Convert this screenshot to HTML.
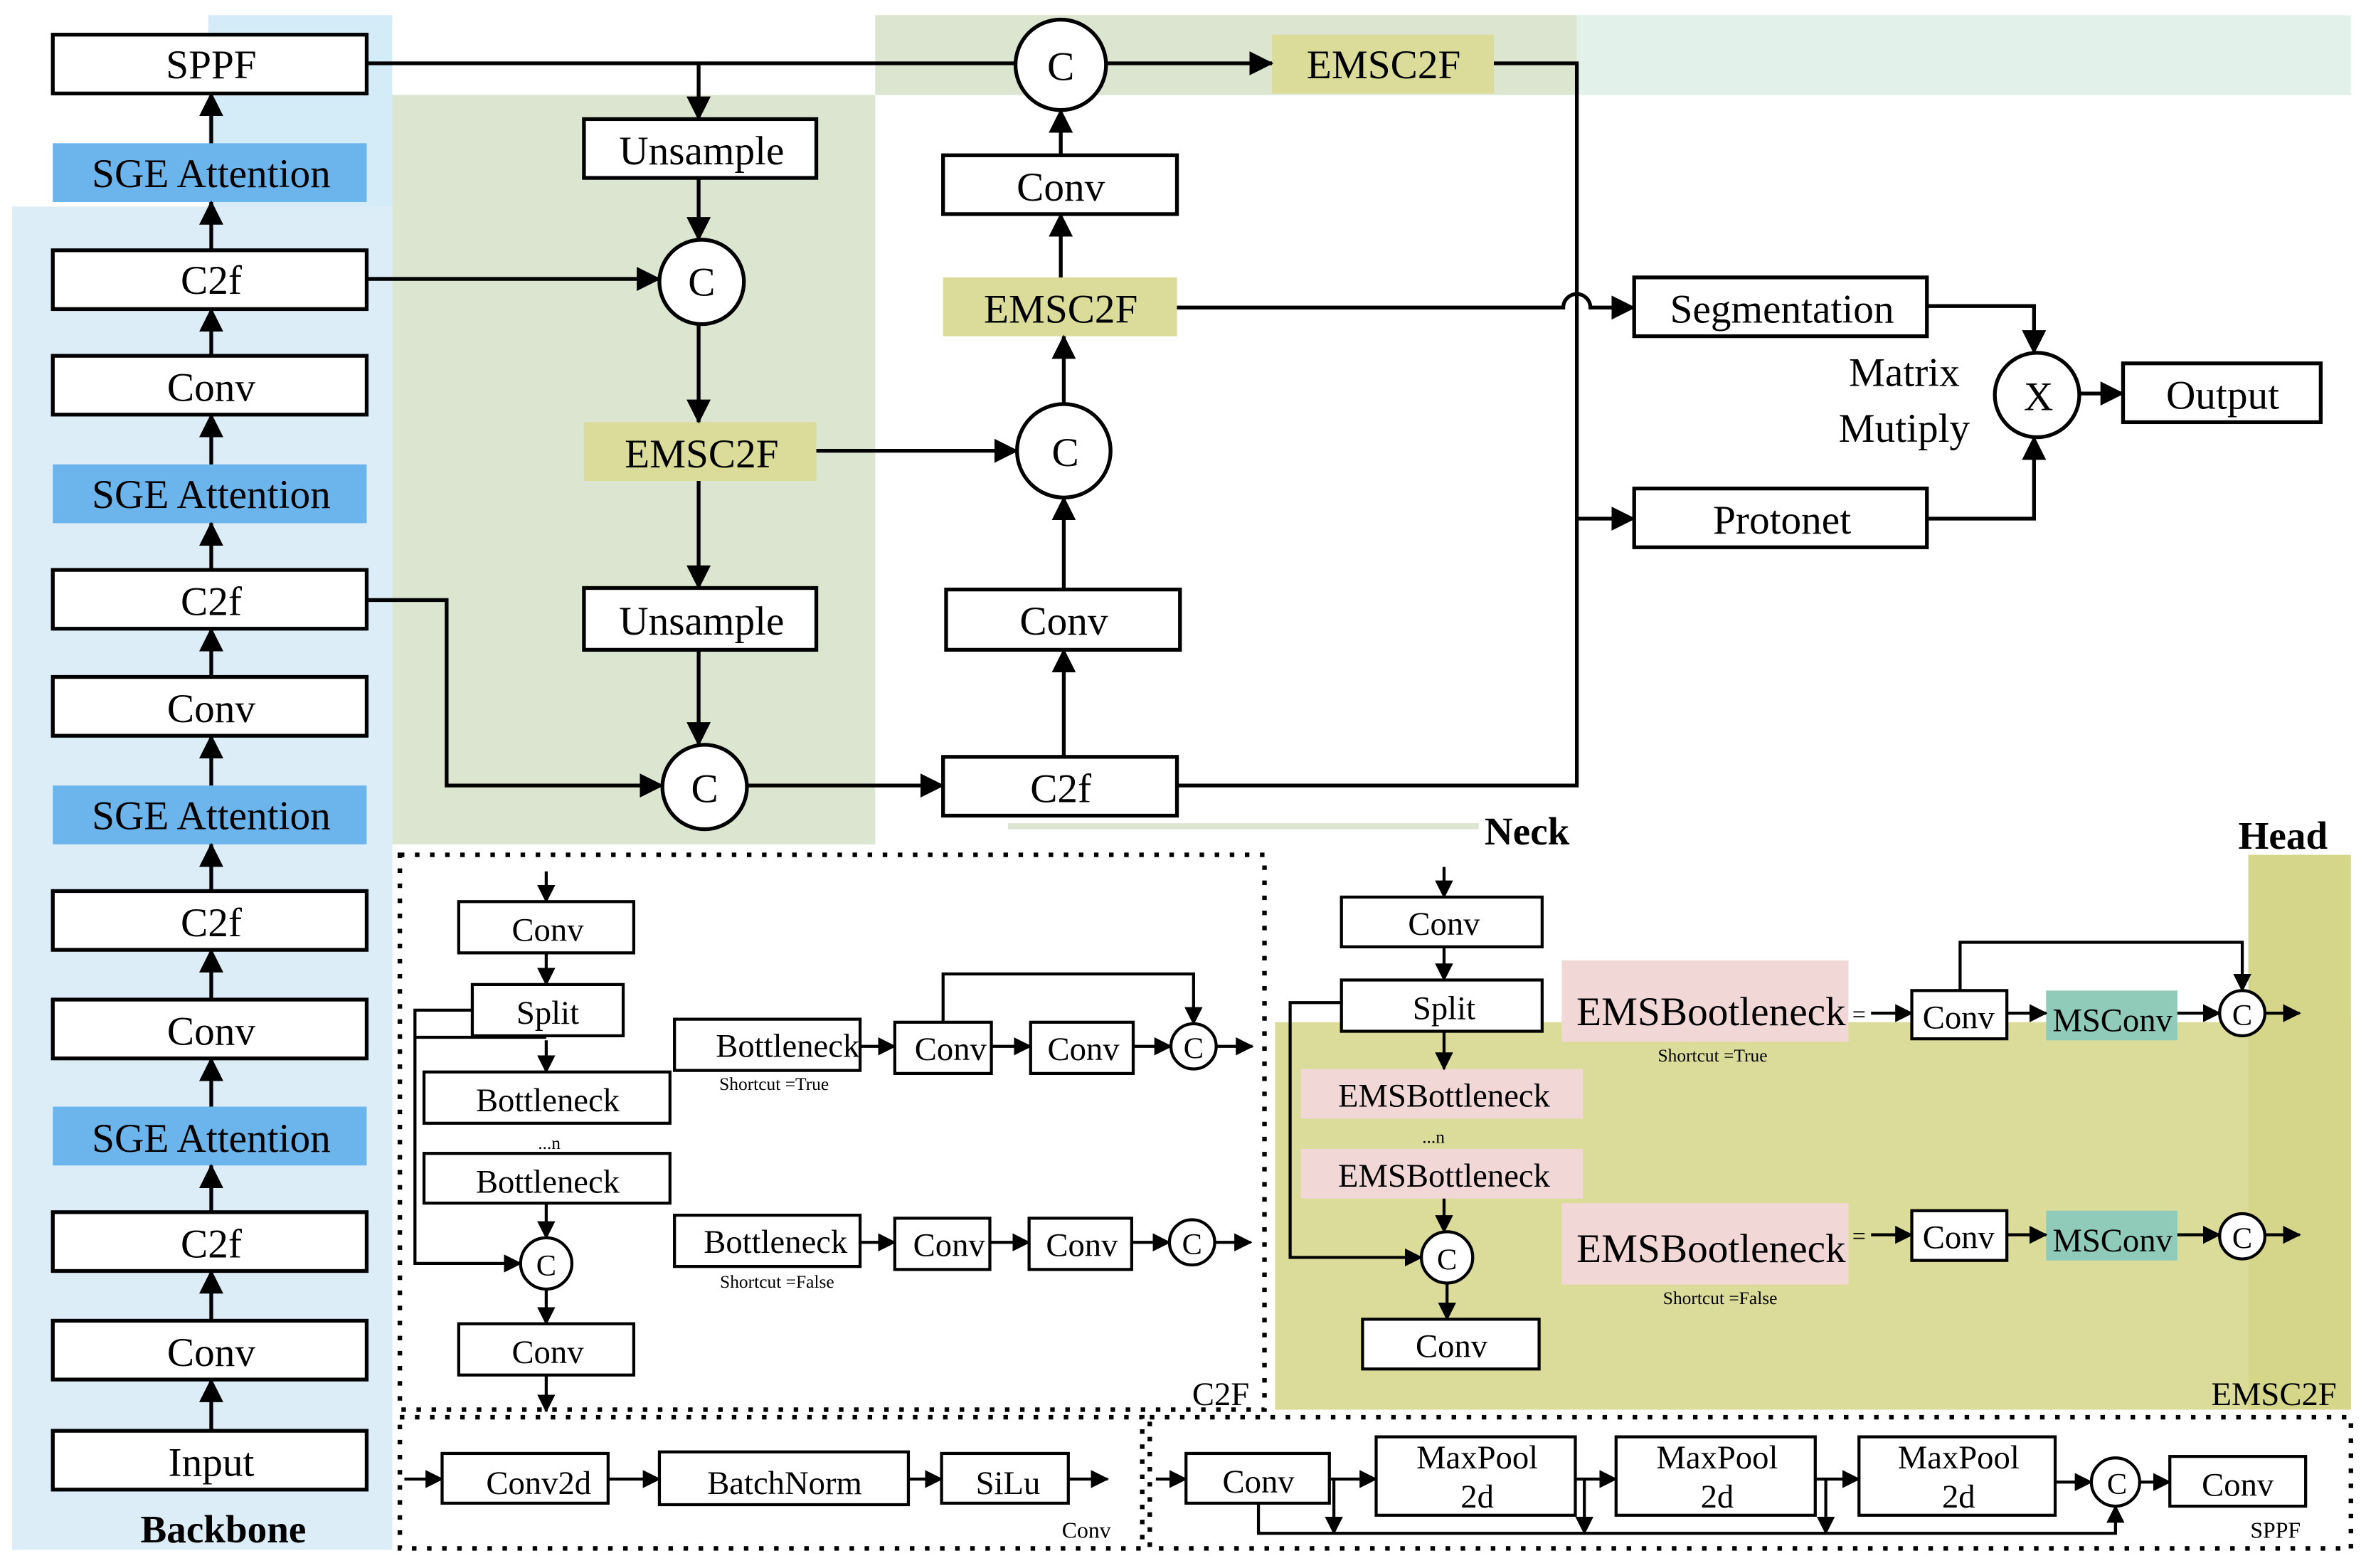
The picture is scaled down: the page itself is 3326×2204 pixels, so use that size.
<!DOCTYPE html>
<html><head><meta charset="utf-8"><style>
html,body{margin:0;padding:0;background:#fff;}
svg{display:block;}
text{font-family:"Liberation Serif",serif;fill:#000;}
</style></head><body>
<svg width="3326" height="2204" viewBox="0 0 1568 1040" preserveAspectRatio="none" xmlns="http://www.w3.org/2000/svg">
<defs>
<marker id="a" markerUnits="userSpaceOnUse" markerWidth="16" markerHeight="16" refX="15" refY="8" orient="auto"><path d="M0,0 L16,8 L0,16 z" fill="#000"/></marker>
<marker id="s" markerUnits="userSpaceOnUse" markerWidth="12" markerHeight="12" refX="11" refY="6" orient="auto"><path d="M0,0 L12,6 L0,12 z" fill="#000"/></marker>
</defs>
<!-- backgrounds -->
<rect x="138" y="10" width="122" height="127" fill="#d4ebf8"/>
<rect x="8" y="137" width="252" height="891" fill="#dcedf8"/>
<rect x="260" y="63" width="320" height="497" fill="#dbe5d0"/>
<rect x="580" y="10" width="465" height="53" fill="#dbe5d0"/>
<rect x="1045" y="10" width="513" height="53" fill="#e2f2ea"/>
<line x1="668" y1="548" x2="980" y2="548" stroke="#dbe5d0" stroke-width="4"/>
<rect x="845" y="678" width="713" height="257" fill="#dcdc9a"/>
<rect x="1490" y="567" width="68" height="368" fill="#d6d68a"/>

<g fill="none" stroke="#000" stroke-width="2.5">
<!-- backbone boxes -->
<rect x="35" y="23" width="208" height="39" fill="#fff"/>
<rect x="35" y="166" width="208" height="39" fill="#fff"/>
<rect x="35" y="236" width="208" height="39" fill="#fff"/>
<rect x="35" y="378" width="208" height="39" fill="#fff"/>
<rect x="35" y="449" width="208" height="39" fill="#fff"/>
<rect x="35" y="591" width="208" height="39" fill="#fff"/>
<rect x="35" y="663" width="208" height="39" fill="#fff"/>
<rect x="35" y="804" width="208" height="39" fill="#fff"/>
<rect x="35" y="876" width="208" height="39" fill="#fff"/>
<rect x="35" y="949" width="208" height="39" fill="#fff"/>
</g>
<g fill="#6cb4ec">
<rect x="35" y="95" width="208" height="39"/>
<rect x="35" y="308" width="208" height="39"/>
<rect x="35" y="521" width="208" height="39"/>
<rect x="35" y="734" width="208" height="39"/>
</g>
<g stroke="#000" stroke-width="2.5" marker-end="url(#a)">
<line x1="140" y1="95" x2="140" y2="62"/>
<line x1="140" y1="166" x2="140" y2="134"/>
<line x1="140" y1="236" x2="140" y2="205"/>
<line x1="140" y1="308" x2="140" y2="275"/>
<line x1="140" y1="378" x2="140" y2="347"/>
<line x1="140" y1="449" x2="140" y2="417"/>
<line x1="140" y1="521" x2="140" y2="488"/>
<line x1="140" y1="591" x2="140" y2="560"/>
<line x1="140" y1="663" x2="140" y2="630"/>
<line x1="140" y1="734" x2="140" y2="702"/>
<line x1="140" y1="804" x2="140" y2="773"/>
<line x1="140" y1="876" x2="140" y2="843"/>
<line x1="140" y1="949" x2="140" y2="915"/>
</g>
<g font-size="27" text-anchor="middle">
<text x="140" y="52">SPPF</text>
<text x="140" y="124">SGE Attention</text>
<text x="140" y="195">C2f</text>
<text x="140" y="266">Conv</text>
<text x="140" y="337">SGE Attention</text>
<text x="140" y="408">C2f</text>
<text x="140" y="479">Conv</text>
<text x="140" y="550">SGE Attention</text>
<text x="140" y="621">C2f</text>
<text x="140" y="693">Conv</text>
<text x="140" y="764">SGE Attention</text>
<text x="140" y="834">C2f</text>
<text x="140" y="906">Conv</text>
<text x="140" y="979">Input</text>
</g>
<text x="148" y="1023" font-size="26" font-weight="bold" text-anchor="middle">Backbone</text>

<!-- neck -->
<g fill="#fff" stroke="#000" stroke-width="2.5">
<rect x="387" y="79" width="154" height="39"/>
<rect x="387" y="390" width="154" height="41"/>
<rect x="625" y="103" width="155" height="39"/>
<rect x="627" y="391" width="155" height="40"/>
<rect x="625" y="502" width="155" height="39"/>
<rect x="1083" y="184" width="194" height="39"/>
<rect x="1083" y="324" width="194" height="39"/>
<rect x="1407" y="241" width="131" height="39"/>
<circle cx="465" cy="187" r="28"/>
<circle cx="467" cy="522" r="28"/>
<circle cx="703" cy="43" r="30"/>
<circle cx="705" cy="299" r="31"/>
<circle cx="1350" cy="262" r="28"/>
</g>
<g fill="#dcdc9a">
<rect x="387" y="280" width="154" height="39"/>
<rect x="625" y="184" width="155" height="39"/>
<rect x="843" y="23" width="147" height="39"/>
</g>
<g fill="none" stroke="#000" stroke-width="2.5">
<polyline points="243,42 673,42" />
<line x1="463" y1="42" x2="463" y2="79" marker-end="url(#a)"/>
<line x1="463" y1="118" x2="463" y2="159" marker-end="url(#a)"/>
<line x1="243" y1="185" x2="437" y2="185" marker-end="url(#a)"/>
<line x1="463" y1="215" x2="463" y2="280" marker-end="url(#a)"/>
<line x1="463" y1="319" x2="463" y2="390" marker-end="url(#a)"/>
<line x1="463" y1="431" x2="463" y2="494" marker-end="url(#a)"/>
<polyline points="243,398 296,398 296,521 439,521" marker-end="url(#a)"/>
<line x1="495" y1="521" x2="625" y2="521" marker-end="url(#a)"/>
<line x1="541" y1="299" x2="674" y2="299" marker-end="url(#a)"/>
<line x1="705" y1="502" x2="705" y2="431" marker-end="url(#a)"/>
<line x1="705" y1="391" x2="705" y2="330" marker-end="url(#a)"/>
<line x1="705" y1="268" x2="705" y2="223" marker-end="url(#a)"/>
<line x1="703" y1="184" x2="703" y2="142" marker-end="url(#a)"/>
<line x1="703" y1="103" x2="703" y2="73" marker-end="url(#a)"/>
<line x1="733" y1="42" x2="843" y2="42" marker-end="url(#a)"/>
<polyline points="990,42 1045,42 1045,521 780,521"/>
<path d="M780,204 L1036,204 A9,9 0 0 1 1054,204 L1083,204" marker-end="url(#a)"/>
<line x1="1045" y1="344" x2="1083" y2="344" marker-end="url(#a)"/>
<polyline points="1277,203 1348,203 1348,234" marker-end="url(#a)"/>
<polyline points="1277,344 1348,344 1348,290" marker-end="url(#a)"/>
<line x1="1378" y1="261" x2="1407" y2="261" marker-end="url(#a)"/>
</g>
<g font-size="27" text-anchor="middle">
<text x="465" y="109">Unsample</text>
<text x="465" y="310">EMSC2F</text>
<text x="465" y="421">Unsample</text>
<text x="465" y="196">C</text>
<text x="467" y="532">C</text>
<text x="703" y="53">C</text>
<text x="706" y="309">C</text>
<text x="1351" y="272">X</text>
<text x="703" y="133">Conv</text>
<text x="703" y="214">EMSC2F</text>
<text x="705" y="421">Conv</text>
<text x="703" y="532">C2f</text>
<text x="917" y="52">EMSC2F</text>
<text x="1181" y="214">Segmentation</text>
<text x="1181" y="354">Protonet</text>
<text x="1473" y="271">Output</text>
<text x="1262" y="256">Matrix</text>
<text x="1262" y="293">Mutiply</text>
</g>
<text x="1012" y="560" font-size="26" font-weight="bold" text-anchor="middle">Neck</text>
<text x="1513" y="563" font-size="26" font-weight="bold" text-anchor="middle">Head</text>

<!-- dotted boxes -->
<g fill="none" stroke="#000" stroke-width="3" stroke-dasharray="3,7">
<rect x="265" y="567" width="573" height="368"/>
<rect x="265" y="940" width="492" height="87"/>
<rect x="762" y="940" width="796" height="87"/>
</g>

<!-- C2F detail -->
<g fill="#fff" stroke="#000" stroke-width="2">
<rect x="304" y="598" width="116" height="34"/>
<rect x="313" y="653" width="100" height="34"/>
<rect x="281" y="711" width="163" height="34"/>
<rect x="281" y="765" width="163" height="33"/>
<circle cx="362" cy="838" r="17"/>
<rect x="304" y="878" width="116" height="34"/>
<rect x="447" y="676" width="123" height="34"/>
<rect x="593" y="678" width="64" height="34"/>
<rect x="683" y="678" width="68" height="34"/>
<circle cx="791" cy="694" r="15"/>
<rect x="447" y="806" width="123" height="34"/>
<rect x="593" y="808" width="63" height="34"/>
<rect x="682" y="808" width="68" height="34"/>
<circle cx="790" cy="824" r="15"/>
</g>
<g fill="none" stroke="#000" stroke-width="2" marker-end="url(#s)">
<line x1="362" y1="578" x2="362" y2="598"/>
<line x1="362" y1="632" x2="362" y2="653"/>
<line x1="362" y1="690" x2="362" y2="711"/>
<line x1="362" y1="798" x2="362" y2="821"/>
<line x1="362" y1="855" x2="362" y2="878"/>
<line x1="362" y1="912" x2="362" y2="936"/>
<polyline points="313,670 275,670 275,838 345,838"/>
<line x1="570" y1="694" x2="593" y2="694"/>
<line x1="657" y1="694" x2="683" y2="694"/>
<line x1="751" y1="694" x2="776" y2="694"/>
<line x1="806" y1="694" x2="830" y2="694"/>
<polyline points="625,678 625,646 791,646 791,679"/>
<line x1="570" y1="824" x2="593" y2="824"/>
<line x1="656" y1="824" x2="682" y2="824"/>
<line x1="750" y1="824" x2="775" y2="824"/>
<line x1="805" y1="824" x2="829" y2="824"/>
</g>
<line x1="275" y1="688" x2="362" y2="688" stroke="#000" stroke-width="2"/>
<g font-size="22" text-anchor="middle">
<text x="363" y="624">Conv</text>
<text x="363" y="679">Split</text>
<text x="363" y="737">Bottleneck</text>
<text x="363" y="791">Bottleneck</text>
<text x="362" y="846" font-size="20">C</text>
<text x="363" y="904">Conv</text>
<text x="522" y="701">Bottleneck</text>
<text x="630" y="703">Conv</text>
<text x="718" y="703">Conv</text>
<text x="791" y="702" font-size="20">C</text>
<text x="514" y="831">Bottleneck</text>
<text x="629" y="833">Conv</text>
<text x="717" y="833">Conv</text>
<text x="790" y="832" font-size="20">C</text>
<text x="809" y="932">C2F</text>
</g>
<text x="364" y="762" font-size="12" text-anchor="middle">...n</text>
<text x="513" y="723" font-size="12" text-anchor="middle">Shortcut =True</text>
<text x="515" y="854" font-size="12" text-anchor="middle">Shortcut =False</text>

<!-- Conv detail -->
<g fill="#fff" stroke="#000" stroke-width="2">
<rect x="293" y="964" width="110" height="33"/>
<rect x="437" y="963" width="165" height="35"/>
<rect x="624" y="964" width="84" height="33"/>
</g>
<g stroke="#000" stroke-width="2" marker-end="url(#s)">
<line x1="268" y1="981" x2="293" y2="981"/>
<line x1="403" y1="981" x2="437" y2="981"/>
<line x1="602" y1="981" x2="624" y2="981"/>
<line x1="708" y1="981" x2="734" y2="981"/>
</g>
<g font-size="22" text-anchor="middle">
<text x="357" y="991">Conv2d</text>
<text x="520" y="991">BatchNorm</text>
<text x="668" y="991">SiLu</text>
</g>
<text x="720" y="1020" font-size="15" text-anchor="middle">Conv</text>

<!-- SPPF detail -->
<g fill="#fff" stroke="#000" stroke-width="2">
<rect x="786" y="964" width="95" height="33"/>
<rect x="912" y="953" width="132" height="52"/>
<rect x="1071" y="953" width="132" height="52"/>
<rect x="1232" y="953" width="130" height="52"/>
<circle cx="1402" cy="983" r="16"/>
<rect x="1438" y="966" width="90" height="33"/>
</g>
<g fill="none" stroke="#000" stroke-width="2" marker-end="url(#s)">
<line x1="766" y1="981" x2="786" y2="981"/>
<line x1="881" y1="981" x2="912" y2="981"/>
<line x1="1044" y1="981" x2="1071" y2="981"/>
<line x1="1203" y1="981" x2="1232" y2="981"/>
<line x1="1362" y1="983" x2="1386" y2="983"/>
<line x1="1418" y1="983" x2="1438" y2="983"/>
<polyline points="834,997 834,1017 1402,1017 1402,999"/>
<line x1="884" y1="981" x2="884" y2="1017"/>
<line x1="1050" y1="981" x2="1050" y2="1017"/>
<line x1="1210" y1="981" x2="1210" y2="1017"/>
</g>
<g font-size="22" text-anchor="middle">
<text x="834" y="990">Conv</text>
<text x="979" y="974">MaxPool</text><text x="979" y="1000">2d</text>
<text x="1138" y="974">MaxPool</text><text x="1138" y="1000">2d</text>
<text x="1298" y="974">MaxPool</text><text x="1298" y="1000">2d</text>
<text x="1403" y="991" font-size="20">C</text>
<text x="1483" y="992">Conv</text>
</g>
<text x="1508" y="1020" font-size="15" text-anchor="middle">SPPF</text>

<!-- EMSC2F detail -->
<g fill="#fff" stroke="#000" stroke-width="2">
<rect x="889" y="595" width="133" height="33"/>
<rect x="889" y="650" width="133" height="34"/>
<circle cx="959" cy="834" r="17"/>
<rect x="903" y="875" width="117" height="33"/>
<rect x="1267" y="657" width="63" height="32"/>
<circle cx="1486" cy="672" r="15"/>
<rect x="1267" y="803" width="63" height="33"/>
<circle cx="1486" cy="820" r="15"/>
</g>
<g fill="#f2d7d7">
<rect x="862" y="709" width="187" height="33"/>
<rect x="862" y="762" width="187" height="33"/>
<rect x="1035" y="637" width="190" height="54"/>
<rect x="1035" y="798" width="190" height="54"/>
</g>
<g fill="#8fcbb8">
<rect x="1356" y="657" width="87" height="33"/>
<rect x="1356" y="803" width="87" height="33"/>
</g>
<g fill="none" stroke="#000" stroke-width="2" marker-end="url(#s)">
<line x1="957" y1="575" x2="957" y2="595"/>
<line x1="957" y1="628" x2="957" y2="650"/>
<line x1="957" y1="684" x2="957" y2="709"/>
<line x1="957" y1="795" x2="957" y2="817"/>
<line x1="959" y1="851" x2="959" y2="875"/>
<polyline points="889,665 855,665 855,834 942,834"/>
<line x1="1240" y1="672" x2="1267" y2="672"/>
<line x1="1330" y1="672" x2="1356" y2="672"/>
<line x1="1443" y1="672" x2="1471" y2="672"/>
<line x1="1501" y1="672" x2="1524" y2="672"/>
<polyline points="1299,657 1299,625 1486,625 1486,657"/>
<line x1="1240" y1="819" x2="1267" y2="819"/>
<line x1="1330" y1="819" x2="1356" y2="819"/>
<line x1="1443" y1="819" x2="1471" y2="819"/>
<line x1="1501" y1="819" x2="1524" y2="819"/>
</g>
<g font-size="22" text-anchor="middle">
<text x="957" y="620">Conv</text>
<text x="957" y="676">Split</text>
<text x="957" y="734">EMSBottleneck</text>
<text x="957" y="787">EMSBottleneck</text>
<text x="959" y="842" font-size="20">C</text>
<text x="962" y="900">Conv</text>
<text x="1134" y="680" font-size="27">EMSBootleneck</text>
<text x="1134" y="837" font-size="27">EMSBootleneck</text>
<text x="1232" y="678" font-size="16">=</text>
<text x="1232" y="825" font-size="16">=</text>
<text x="1298" y="682">Conv</text>
<text x="1400" y="684">MSConv</text>
<text x="1486" y="680" font-size="20">C</text>
<text x="1298" y="828">Conv</text>
<text x="1400" y="830">MSConv</text>
<text x="1486" y="828" font-size="20">C</text>
<text x="1507" y="932">EMSC2F</text>
</g>
<text x="950" y="758" font-size="12" text-anchor="middle">...n</text>
<text x="1135" y="704" font-size="12" text-anchor="middle">Shortcut =True</text>
<text x="1140" y="865" font-size="12" text-anchor="middle">Shortcut =False</text>
</svg>
</body></html>
